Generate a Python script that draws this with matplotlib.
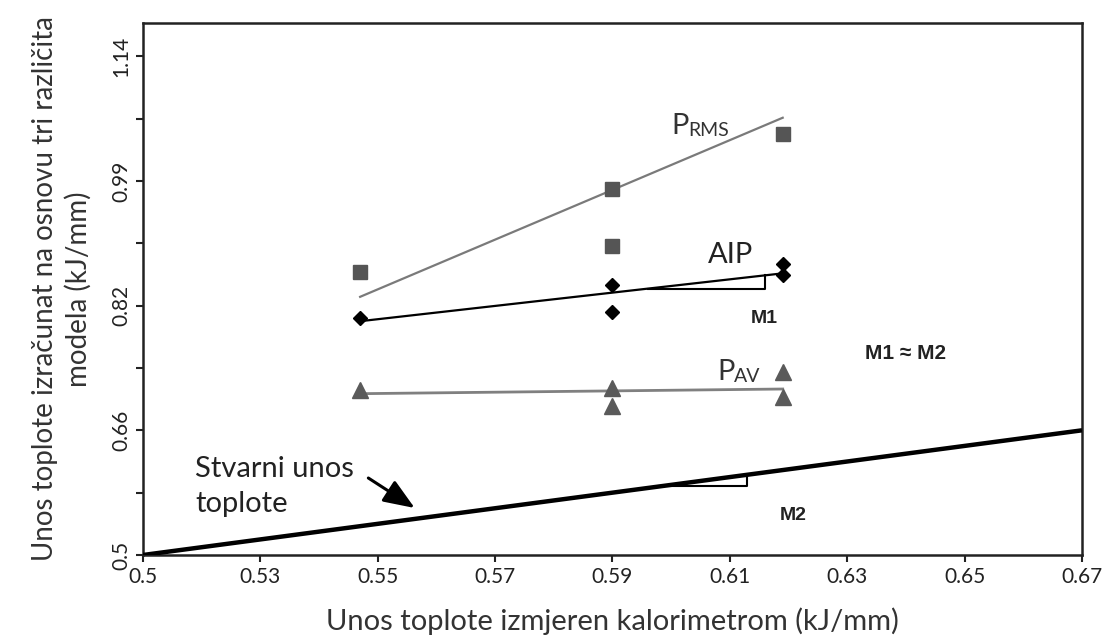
import numpy as np
import matplotlib
matplotlib.use("Agg")
import matplotlib.pyplot as plt

plt.rcParams['font.family'] = ['Lato', 'DejaVu Sans']

# tick labels as printed on the axes (evenly spaced on the chart)
x_ticks = [0.5, 0.53, 0.55, 0.57, 0.59, 0.61, 0.63, 0.65, 0.67]
y_ticks = [0.5, 0.66, 0.82, 0.99, 1.14]

# P_RMS model
prms_x = [0.547, 0.59, 0.59, 0.619]
prms_y = [0.866, 0.979, 0.901, 1.046]
prms_fit_x = [0.547, 0.619]
prms_fit_y = [0.832, 1.066]

# AIP model
aip_x = [0.547, 0.59, 0.59, 0.619, 0.619]
aip_y = [0.804, 0.848, 0.812, 0.877, 0.862]
aip_fit_x = [0.547, 0.619]
aip_fit_y = [0.800, 0.864]

# P_AV model
pav_x = [0.547, 0.59, 0.59, 0.619, 0.619]
pav_y = [0.712, 0.714, 0.691, 0.735, 0.703]
pav_fit_x = [0.547, 0.619]
pav_fit_y = [0.707, 0.713]

# stvarni unos topline
real_x = [0.5, 0.67]
real_y = [0.5, 0.66]

# slope triangles (x range on the line)
m1_x = [0.596, 0.616]
m2_x = [0.598, 0.613]


# piecewise scale so the printed ticks stay evenly spaced
xt = np.array([0.47] + x_ticks + [0.69])
xi = np.arange(-1, len(x_ticks) + 1, dtype=float)
yt = np.array([0.34] + y_ticks + [1.29])
yi = np.arange(-1, len(y_ticks) + 1, dtype=float)


def fx(v):
    return np.interp(v, xt, xi)


def fx_inv(v):
    return np.interp(v, xi, xt)


def fy(v):
    return np.interp(v, yt, yi)


def fy_inv(v):
    return np.interp(v, yi, yt)


def on_line(lx, ly, x):
    """y of a straight (on screen) line at x"""
    p = np.interp(fx(x), fx(np.array(lx)), fy(np.array(ly)))
    return float(fy_inv(p))


fig = plt.figure(figsize=(11.04, 6.4), dpi=100)
ax = fig.add_axes([0.1295, 0.1328, 0.8506, 0.8313])
ax.set_xscale('function', functions=(fx, fx_inv))
ax.set_yscale('function', functions=(fy, fy_inv))
ax.set_xlim(0.5, 0.67)
ax.set_ylim(0.5, 1.18)

ax.set_xticks(x_ticks)
ax.set_xticklabels([f"{v:g}" for v in x_ticks])
ax.set_yticks(y_ticks)
ax.set_yticklabels([f"{v:g}" for v in y_ticks], rotation=90, va='center')
ax.set_yticks(fy_inv(np.arange(len(y_ticks) - 1) + 0.5), minor=True)
ax.xaxis.set_minor_locator(matplotlib.ticker.NullLocator())
ax.tick_params(axis='both', which='both', direction='out', length=5, width=1.5,
               labelsize=15, colors='#222222')

for s in ax.spines.values():
    s.set_linewidth(1.8)
    s.set_color('#222222')

# data
ax.plot(real_x, real_y, color='black', lw=3.2, solid_capstyle='butt', zorder=3)

ax.plot(prms_fit_x, prms_fit_y, color='#7a7a7a', lw=1.6)
ax.plot(prms_x, prms_y, ls='none', marker='s', ms=10, color='#555555')

ax.plot(aip_fit_x, aip_fit_y, color='black', lw=1.6)
ax.plot(aip_x, aip_y, ls='none', marker='D', ms=7.5, color='black')

ax.plot(pav_fit_x, pav_fit_y, color='#808080', lw=2)
ax.plot(pav_x, pav_y, ls='none', marker='^', ms=11, color='#5a5a5a')

# slope triangles
for lx, ly, mx in [(aip_fit_x, aip_fit_y, m1_x), (real_x, real_y, m2_x)]:
    y0 = on_line(lx, ly, mx[0])
    y1 = on_line(lx, ly, mx[1])
    ax.plot([mx[0], mx[1], mx[1]], [y0, y0, y1], color='black', lw=1.5)

# labels on the chart
p1 = ax.text(0.600, 1.047, 'P', fontsize=21, color='#333333', va='baseline')
ax.annotate('RMS', xy=(1, 0.0), xycoords=p1, fontsize=14, color='#333333',
            va='bottom', ha='left')
ax.text(0.6062, 0.878, 'AIP', fontsize=21, color='#222222', va='baseline')
p2 = ax.text(0.6078, 0.7245, 'P', fontsize=21, color='#333333', va='baseline')
ax.annotate('AV', xy=(1, 0.0), xycoords=p2, fontsize=14, color='#333333',
            va='bottom', ha='left')

bold = dict(fontsize=14, fontweight='bold', color='#222222',
            family=['Liberation Sans', 'DejaVu Sans'], ha='center', va='center')
ax.text(0.6159, 0.803, 'M1', **bold)
ax.text(0.640, 0.759, 'M1 \u2248 M2', **dict(bold, fontsize=15))
ax.text(0.6208, 0.5513, 'M2', **bold)

ax.text(0.5133, 0.627, 'Stvarni unos\ntoplote', fontsize=21, color='#222222',
        va='top', ha='left', linespacing=1.45)
ax.annotate('', xy=(0.5563, 0.5603), xytext=(0.5484, 0.5988),
            arrowprops=dict(arrowstyle='-|>,head_length=1.9,head_width=0.75',
                            color='black', lw=2.2, shrinkA=0, shrinkB=0))

ax.set_xlabel('Unos toplote izmjeren kalorimetrom (kJ/mm)', fontsize=21,
              color='#333333', labelpad=15)
ax.set_ylabel('Unos toplote izračunat na osnovu tri različita\nmodela (kJ/mm)',
              fontsize=20, color='#333333', labelpad=14, linespacing=1.3)

fig.savefig('out.png', dpi=100)
